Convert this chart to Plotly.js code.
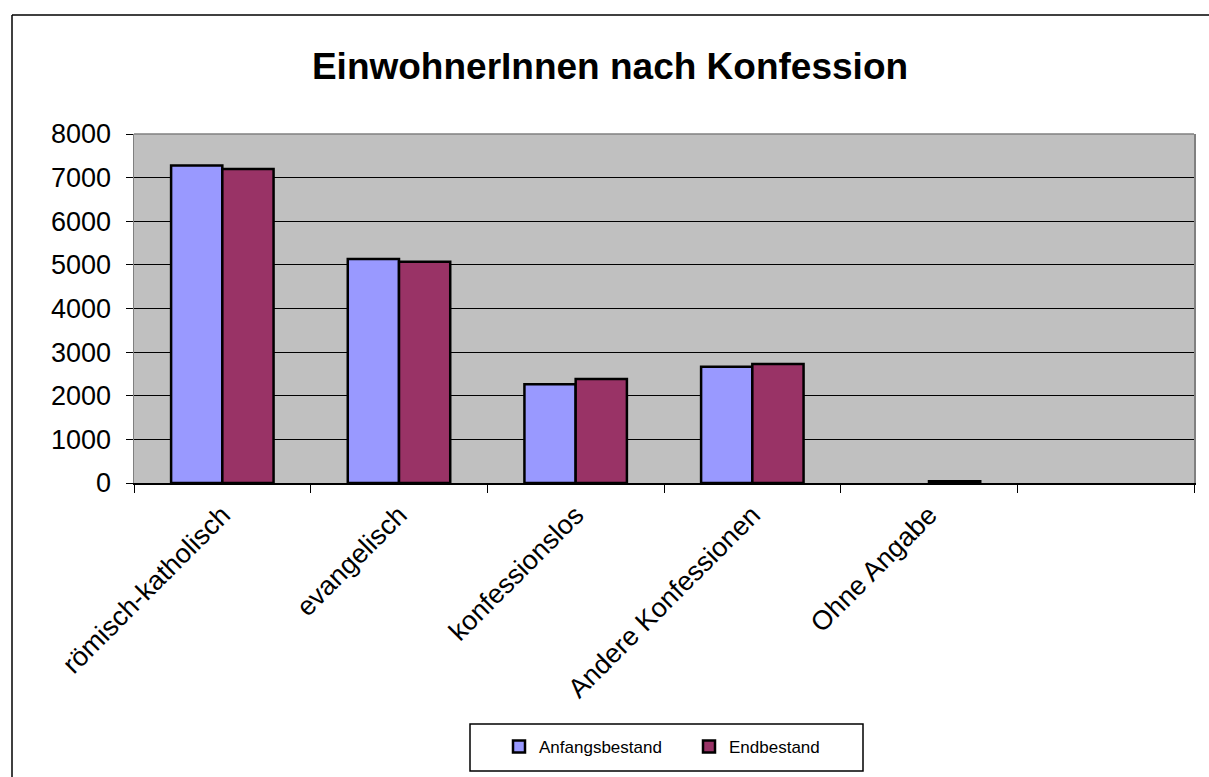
<!DOCTYPE html>
<html>
<head>
<meta charset="utf-8">
<script src="https://cdn.plot.ly/plotly-3.0.1.min.js"></script>
<style>html,body{margin:0;padding:0;background:#fff;}#chart{width:1209px;height:777px;}</style>
</head>
<body>
<div id="chart"></div>
<script>
const categories = ["römisch-katholisch", "evangelisch", "konfessionslos", "Andere Konfessionen", "Ohne Angabe", " "];
const anfangsbestand = [7277, 5137, 2264, 2667, null, null];
const endbestand = [7200, 5069, 2385, 2729, 40, null];
const seriesNames = ["Anfangsbestand", "Endbestand"];
const yTicks = [0, 1000, 2000, 3000, 4000, 5000, 6000, 7000, 8000];

const font = "Liberation Sans, Arial, sans-serif";
const W = 1209, H = 777;
const m = {l: 134, r: 15, t: 134, b: 294};
const pw = W - m.l - m.r, ph = H - m.t - m.b;
const px = x => (x - m.l) / pw;
const py = y => (H - m.b - y) / ph;

const traces = [
  {type: "bar", name: seriesNames[0], x: categories, y: anfangsbestand,
   marker: {color: "#9999FF", line: {color: "#000", width: 2.5}}},
  {type: "bar", name: seriesNames[1], x: categories, y: endbestand,
   marker: {color: "#993366", line: {color: "#000", width: 2.5}}}
];

const layout = {
  width: W, height: H,
  margin: m,
  paper_bgcolor: "#fff",
  plot_bgcolor: "#C0C0C0",
  barmode: "group",
  bargap: 0.42,
  bargroupgap: 0,
  font: {family: font, color: "#000"},
  title: {text: "<b>EinwohnerInnen nach Konfession</b>", font: {family: font, size: 37, color: "#000"},
          x: 610 / W, xref: "container", xanchor: "center", y: 1 - 66 / H, yanchor: "middle"},
  xaxis: {type: "category", tickangle: -45, tickfont: {family: font, size: 27, color: "#000"},
          ticks: "outside", ticklen: 8, tickcolor: "#000", tickwidth: 1, tickson: "boundaries",
          ticklabelstandoff: 4,
          showline: true, linecolor: "#000", linewidth: 1.5, showgrid: false, range: [-0.5, 5.5],
          fixedrange: true},
  yaxis: {range: [0, 8000], tickvals: yTicks, ticktext: yTicks.map(String),
          tickfont: {family: font, size: 27, color: "#000"},
          ticks: "outside", ticklen: 7, tickcolor: "#000", tickwidth: 1, ticklabelstandoff: 9,
          showline: true, linecolor: "#808080", linewidth: 1.5, mirror: true,
          showgrid: true, gridcolor: "#000", gridwidth: 1, zeroline: false, fixedrange: true},
  showlegend: true,
  legend: {orientation: "h", x: px(499), xanchor: "left", y: py(747), yanchor: "middle",
           font: {family: font, size: 17, color: "#000"}, bgcolor: "rgba(0,0,0,0)",
           borderwidth: 0, entrywidth: 145, itemclick: false},
  shapes: [
    {type: "line", xref: "paper", yref: "paper", x0: 0, x1: 1, y0: 1, y1: 1,
     line: {color: "#808080", width: 1.5}, layer: "above"},
    {type: "line", xref: "paper", yref: "paper", x0: px(12), x1: px(12), y0: py(15), y1: py(777),
     line: {color: "#000", width: 1.5}},
    {type: "line", xref: "paper", yref: "paper", x0: px(12), x1: px(1209), y0: py(15), y1: py(15),
     line: {color: "#000", width: 1.5}},
    {type: "rect", xref: "paper", yref: "paper", x0: px(470), x1: px(863), y0: py(724), y1: py(771),
     line: {color: "#000", width: 1.5}, fillcolor: "rgba(0,0,0,0)"}
  ]
};

Plotly.newPlot("chart", traces, layout, {displayModeBar: false, staticPlot: true});
</script>
</body>
</html>
